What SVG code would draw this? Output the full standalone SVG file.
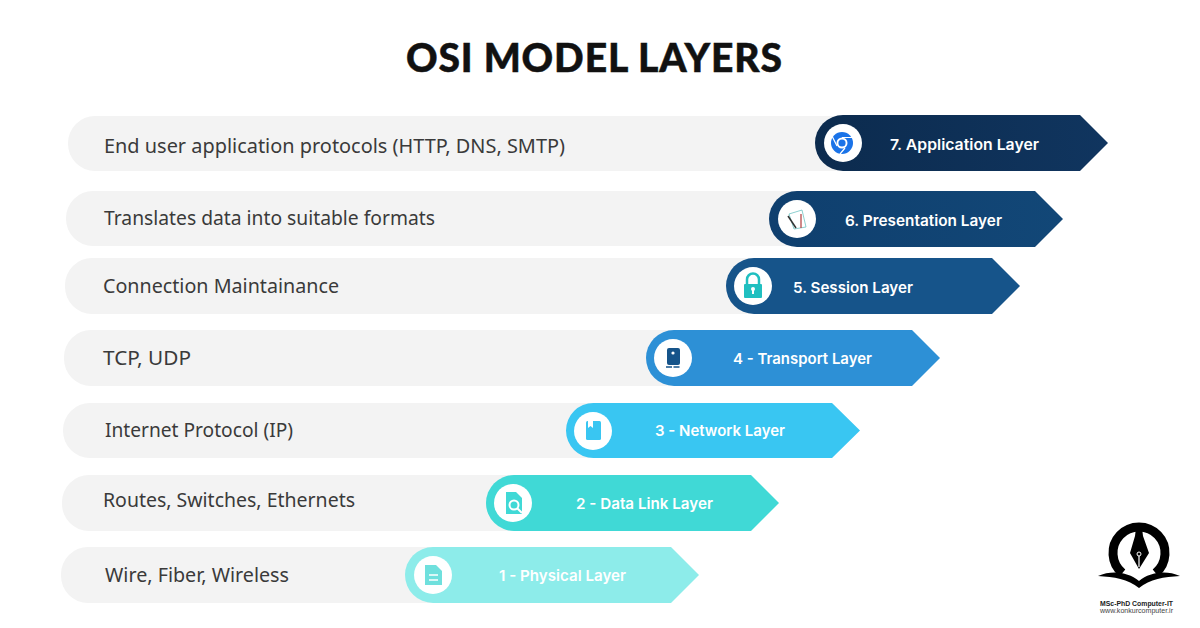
<svg xmlns="http://www.w3.org/2000/svg" width="1200" height="628" viewBox="0 0 1200 628">
<style>
.bar{fill:#f3f3f3}
.t{font-family:"Noto Sans","Open Sans","Liberation Sans",sans-serif;font-size:20px;fill:#3a3a3a}
.l{font-family:Inter,"Liberation Sans",sans-serif;font-size:15px;font-weight:600;fill:#fff}
.c{fill:#fff}
</style>
<defs>
<linearGradient id="g7" x1="0" x2="1" y1="0" y2="0"><stop offset="0" stop-color="#0c2b4e"/><stop offset="1" stop-color="#10355f"/></linearGradient>
<linearGradient id="g6" x1="0" x2="1" y1="0" y2="0"><stop offset="0" stop-color="#0f3f6e"/><stop offset="1" stop-color="#124777"/></linearGradient>
</defs>
<rect width="1200" height="628" fill="#fff"/>
<text x="406" y="72" textLength="376" lengthAdjust="spacing" font-family="Lato,'Open Sans','Liberation Sans',sans-serif" font-weight="900" font-size="39" fill="#111" stroke="#111" stroke-width="0.5">OSI MODEL LAYERS</text>
<g id="layer7"><rect class="bar" x="68" y="116" width="800" height="55" rx="27"/><path d="M843 115H1080L1108 143L1080 171H843A28 28 0 0 1 843 115Z" fill="url(#g7)"/><circle class="c" cx="843" cy="143" r="19"/><circle cx="842" cy="143" r="11" fill="#1a73e8"/><circle cx="842" cy="143" r="5.500" fill="#fff"/><circle cx="842" cy="143" r="3.600" fill="#1a73e8"/><path d="M842 137.500H853M837 146L832 136M845 148L840 154" stroke="#fff" stroke-width="1.200" fill="none"/><text class="t" x="104" y="153" textLength="461" lengthAdjust="spacingAndGlyphs">End user application protocols (HTTP, DNS, SMTP)</text><text class="l" x="890" y="150" textLength="149" lengthAdjust="spacingAndGlyphs">7. Application Layer</text></g>
<g id="layer6"><rect class="bar" x="66" y="191" width="760" height="55" rx="27"/><path d="M797 191H1035L1063 219L1035 247H797A28 28 0 0 1 797 191Z" fill="url(#g6)"/><circle class="c" cx="797" cy="219" r="19"/><path d="M789 214L802 210L806 227L794 229Z" fill="#fff" stroke="#6fc3c3" stroke-width="0.800"/><path d="M801 214V228" stroke="#b03a3a" stroke-width="1.200"/><path d="M788 216L796 228" stroke="#333" stroke-width="1.500"/><text class="t" x="104" y="225" textLength="331" lengthAdjust="spacingAndGlyphs">Translates data into suitable formats</text><text class="l" x="845" y="226" textLength="157" lengthAdjust="spacingAndGlyphs">6. Presentation Layer</text></g>
<g id="layer5"><rect class="bar" x="65" y="258" width="720" height="56" rx="27"/><path d="M754 258H992L1020 286L992 314H754A28 28 0 0 1 754 258Z" fill="#16548a"/><circle class="c" cx="753" cy="286" r="19"/><rect x="744" y="284" width="18" height="14" rx="1" fill="#20bfc0"/><path d="M747 285V279.500A6 6 0 0 1 759 279.500V285" fill="none" stroke="#20bfc0" stroke-width="2.500"/><circle cx="753" cy="289" r="2" fill="#fff"/><rect x="752" y="289" width="2" height="5" fill="#fff"/><text class="t" x="103" y="293" textLength="236" lengthAdjust="spacingAndGlyphs">Connection Maintainance</text><text class="l" x="793" y="293" textLength="120" lengthAdjust="spacingAndGlyphs">5. Session Layer</text></g>
<g id="layer4"><rect class="bar" x="64" y="330" width="640" height="56" rx="27"/><path d="M674 330H912L940 358L912 386H674A28 28 0 0 1 674 330Z" fill="#2d90d6"/><circle class="c" cx="673" cy="358" r="19"/><rect x="667" y="348" width="13" height="17" rx="2" fill="#16548a"/><circle cx="673" cy="353" r="1.600" fill="#fff"/><path d="M666 367H681" stroke="#16548a" stroke-width="1.500" stroke-dasharray="6 1.500"/><text class="t" x="103" y="365" textLength="88" lengthAdjust="spacingAndGlyphs">TCP, UDP</text><text class="l" x="733" y="364" textLength="139" lengthAdjust="spacingAndGlyphs">4 - Transport Layer</text></g>
<g id="layer3"><rect class="bar" x="63" y="403" width="560" height="55" rx="27"/><path d="M593.500 403H832L860 430.500L832 458H593.500A27.500 27.500 0 0 1 593.500 403Z" fill="#39c6f2"/><circle class="c" cx="593" cy="431" r="19"/><rect x="586" y="421" width="15" height="19" rx="1.500" fill="#39c6f2"/><path d="M588 421H593V428L590.500 426L588 428Z" fill="#fff"/><text class="t" x="105" y="437" textLength="188" lengthAdjust="spacingAndGlyphs">Internet Protocol (IP)</text><text class="l" x="655" y="436" textLength="130" lengthAdjust="spacingAndGlyphs">3 - Network Layer</text></g>
<g id="layer2"><rect class="bar" x="62" y="475" width="480" height="56" rx="27"/><path d="M514 475H751L779 503L751 531H514A28 28 0 0 1 514 475Z" fill="#40d9d6"/><circle class="c" cx="513" cy="503" r="19"/><path d="M506 492H516L522 498V514H506Z" fill="#40d9d6"/><circle cx="514" cy="505" r="4.500" fill="#40d9d6" stroke="#fff" stroke-width="2"/><path d="M517 508L522 513" stroke="#fff" stroke-width="2"/><text class="t" x="103" y="507" textLength="252" lengthAdjust="spacingAndGlyphs">Routes, Switches, Ethernets</text><text class="l" x="576" y="509" textLength="137" lengthAdjust="spacingAndGlyphs">2 - Data Link Layer</text></g>
<g id="layer1"><rect class="bar" x="61" y="547" width="400" height="56" rx="27"/><path d="M433 547H671L699 575L671 603H433A28 28 0 0 1 433 547Z" fill="#8decea"/><circle class="c" cx="433" cy="575" r="19"/><path d="M425 565H436L442 571V585H425Z" fill="#6fe0dd"/><path d="M429 575H438M429 580H438" stroke="#fff" stroke-width="1.500"/><text class="t" x="105" y="582" textLength="184" lengthAdjust="spacingAndGlyphs">Wire, Fiber, Wireless</text><text class="l" x="499" y="581" textLength="127" lengthAdjust="spacingAndGlyphs">1 - Physical Layer</text></g>
<g id="logo">
<path d="M1122.400 573A26 26 0 1 1 1155.600 573" fill="none" stroke="#000" stroke-width="9"/>
<path d="M1136 528L1142 528L1143 536L1149 553L1139 569L1130 553L1135 536Z" fill="#000"/>
<path d="M1139 556V567" stroke="#fff" stroke-width="1.200"/><circle cx="1139" cy="554" r="2" fill="none" stroke="#fff"/>
<path d="M1098 576C1112 570 1128 572 1139 581C1150 572 1166 570 1180 576C1164 577 1150 579 1139 588C1128 579 1114 577 1098 576Z" fill="#000"/>
<text x="1100" y="606" textLength="73" lengthAdjust="spacingAndGlyphs" font-family="'Liberation Sans',sans-serif" font-weight="700" font-size="7" fill="#222">MSc-PhD Computer-IT</text>
<text x="1100" y="613" textLength="73" lengthAdjust="spacingAndGlyphs" font-family="'Liberation Sans',sans-serif" font-size="6.500" fill="#444">www.konkurcomputer.ir</text>
</g>
</svg>
